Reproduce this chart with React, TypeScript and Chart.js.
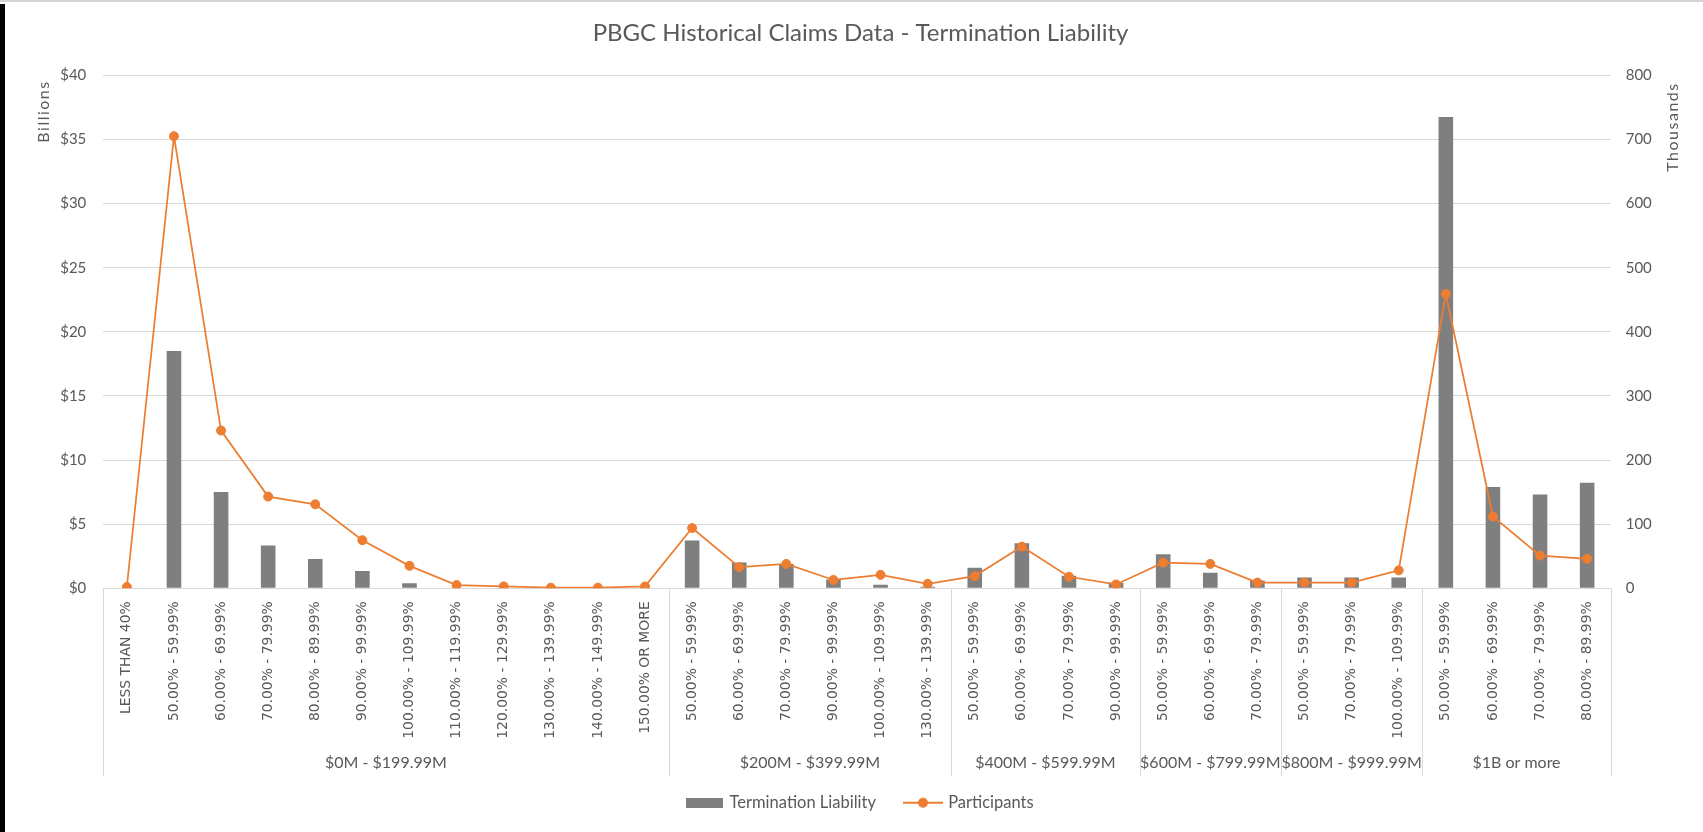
import React, { useEffect, useRef } from 'react';
import { Chart, registerables } from 'chart.js';

Chart.register(...registerables);

// ---------- data ----------
const categories = [
  'LESS THAN 40%', '50.00% - 59.99%', '60.00% - 69.99%', '70.00% - 79.99%', '80.00% - 89.99%',
  '90.00% - 99.99%', '100.00% - 109.99%', '110.00% - 119.99%', '120.00% - 129.99%',
  '130.00% - 139.99%', '140.00% - 149.99%', '150.00% OR MORE',
  '50.00% - 59.99%', '60.00% - 69.99%', '70.00% - 79.99%', '90.00% - 99.99%', '100.00% - 109.99%', '130.00% - 139.99%',
  '50.00% - 59.99%', '60.00% - 69.99%', '70.00% - 79.99%', '90.00% - 99.99%',
  '50.00% - 59.99%', '60.00% - 69.99%', '70.00% - 79.99%',
  '50.00% - 59.99%', '70.00% - 79.99%', '100.00% - 109.99%',
  '50.00% - 59.99%', '60.00% - 69.99%', '70.00% - 79.99%', '80.00% - 89.99%',
];

const groupNames = ['$0M - $199.99M', '$200M - $399.99M', '$400M - $599.99M', '$600M - $799.99M', '$800M - $999.99M', '$1B or more'];
const groupSizes = [12, 6, 4, 3, 3, 4];

// Billions
const terminationLiability = [
  0, 18.5, 7.5, 3.33, 2.28, 1.34, 0.4, 0, 0, 0, 0, 0,
  3.72, 2.02, 1.9, 0.69, 0.27, 0.13,
  1.6, 3.51, 0.98, 0.43,
  2.66, 1.22, 0.61,
  0.85, 0.85, 0.85,
  36.74, 7.89, 7.32, 8.23,
];

// Thousands
const participants = [
  2, 705, 246, 143, 131, 75, 35, 5, 3, 1, 1, 3,
  94, 33, 38, 13, 21, 7,
  19, 65, 18, 6,
  40, 38, 9,
  9, 9, 28,
  459, 112, 51, 46,
];

const leftTicks = { min: 0, max: 40, step: 5 };
const rightTicks = { min: 0, max: 800, step: 100 };

const TITLE = 'PBGC Historical Claims Data - Termination Liability';
const LEFT_TITLE = 'Billions';
const RIGHT_TITLE = 'Thousands';

const FONT = 'Lato, "Open Sans", sans-serif';
const TEXT = '#595959';
const GRID = '#d9d9d9';
const BAR = '#7f7f7f';
const ORANGE = '#ED7D31';

function barIcon() {
  const c = document.createElement('canvas');
  c.width = 37; c.height = 10;
  const g = c.getContext('2d')!;
  g.fillStyle = BAR;
  g.fillRect(0, 0, 37, 10);
  return c;
}
function lineIcon() {
  const c = document.createElement('canvas');
  c.width = 40; c.height = 12;
  const g = c.getContext('2d')!;
  g.strokeStyle = ORANGE; g.lineWidth = 2;
  g.beginPath(); g.moveTo(0, 6); g.lineTo(40, 6); g.stroke();
  g.fillStyle = ORANGE;
  g.beginPath(); g.arc(20, 6, 5, 0, Math.PI * 2); g.fill();
  return c;
}

const groupAxisPlugin = {
  id: 'groupAxis',
  afterDraw(chart: any) {
    const { ctx, chartArea, scales } = chart;
    const x = scales.x;
    const step = x.getPixelForValue(1) - x.getPixelForValue(0);
    const top = chartArea.bottom;
    const bottom = top + 188;
    ctx.save();
    ctx.strokeStyle = GRID;
    ctx.lineWidth = 1;
    const vline = (px: number) => {
      const p = Math.round(px) + 0.5;
      ctx.beginPath(); ctx.moveTo(p, top); ctx.lineTo(p, bottom); ctx.stroke();
    };
    vline(x.getPixelForValue(0) - step / 2);
    ctx.fillStyle = TEXT;
    ctx.font = `16px ${FONT}`;
    ctx.textAlign = 'center';
    ctx.textBaseline = 'middle';
    let start = 0;
    groupSizes.forEach((size, g) => {
      const left = x.getPixelForValue(start) - step / 2;
      const right = x.getPixelForValue(start + size - 1) + step / 2;
      vline(right);
      ctx.fillText(groupNames[g], (left + right) / 2, top + 175);
      start += size;
    });
    ctx.restore();
  },
};

const axisTitlePlugin = {
  id: 'axisTitles',
  afterDraw(chart: any) {
    const { ctx, chartArea } = chart;
    ctx.save();
    ctx.fillStyle = TEXT;
    ctx.font = `16px ${FONT}`;
    (ctx as any).letterSpacing = '1.5px';
    ctx.textAlign = 'right';
    ctx.textBaseline = 'middle';
    const draw = (text: string, x: number, y: number) => {
      ctx.save();
      ctx.translate(x, y);
      ctx.rotate(-Math.PI / 2);
      ctx.fillText(text, 0, 0);
      ctx.restore();
    };
    draw(LEFT_TITLE, chartArea.left - 59, chartArea.top + 5);
    draw(RIGHT_TITLE, chartArea.right + 62, chartArea.top + 7);
    ctx.restore();
  },
};

export default function App() {
  const ref = useRef<HTMLCanvasElement>(null);

  useEffect(() => {
    const canvas = ref.current!;
    const icons = [barIcon(), lineIcon()];
    const chart = new Chart(canvas, {
      type: 'bar',
      data: {
        labels: categories,
        datasets: [
          {
            type: 'bar',
            label: 'Termination Liability',
            data: terminationLiability,
            backgroundColor: BAR,
            borderWidth: 0,
            yAxisID: 'y',
            order: 2,
            categoryPercentage: 1,
            barPercentage: 0.31,
          } as any,
          {
            type: 'line',
            label: 'Participants',
            data: participants,
            borderColor: ORANGE,
            backgroundColor: ORANGE,
            borderWidth: 1.75,
            pointRadius: 4.5,
            pointBorderWidth: 1,
            pointBackgroundColor: ORANGE,
            pointBorderColor: ORANGE,
            tension: 0,
            yAxisID: 'y1',
            order: 1,
          } as any,
        ],
      },
      options: {
        responsive: false,
        animation: false,
        events: [],
        devicePixelRatio: 1,
        layout: { padding: { left: 18, right: 0, top: 0, bottom: 11 } },
        plugins: {
          title: {
            display: true,
            text: TITLE,
            color: TEXT,
            font: { family: FONT, size: 24, weight: 'normal', lineHeight: 1.2 },
            padding: { top: 18.6, bottom: 27.9 },
          },
          legend: {
            display: true,
            position: 'bottom',
            labels: {
              color: TEXT,
              font: { family: FONT, size: 16.5 },
              usePointStyle: true,
              pointStyleWidth: 34,
              padding: 30,
              sort: (a: any, b: any) => a.datasetIndex - b.datasetIndex,
              generateLabels: (ch: any) => {
                const items = Chart.defaults.plugins.legend.labels.generateLabels(ch);
                return items.map((it: any) => ({ ...it, pointStyle: icons[it.datasetIndex] }));
              },
            },
          },
          tooltip: { enabled: false },
        },
        scales: {
          x: {
            type: 'category',
            offset: true,
            grid: { display: false, drawTicks: false },
            border: { display: true, color: GRID, width: 1 },
            ticks: {
              autoSkip: false,
              minRotation: 90,
              maxRotation: 90,
              padding: 13,
              color: TEXT,
              font: { family: '"DejaVu Sans", Verdana, sans-serif', size: 13.9 },
            },
            afterFit: (s: any) => { s.height = 176.2; },
          },
          y: {
            position: 'left',
            min: leftTicks.min,
            max: leftTicks.max,
            grid: { color: GRID, lineWidth: 1, drawTicks: false },
            border: { display: false },
            ticks: {
              stepSize: leftTicks.step,
              padding: 17,
              color: TEXT,
              font: { family: FONT, size: 15 },
              callback: (v: any) => '$' + v,
            },
            afterFit: (s: any) => { s.width = 85.3; },
          },
          y1: {
            position: 'right',
            min: rightTicks.min,
            max: rightTicks.max,
            grid: { display: false, drawTicks: false },
            border: { display: false },
            ticks: {
              stepSize: rightTicks.step,
              padding: 15,
              color: TEXT,
              font: { family: FONT, size: 15 },
            },
            afterFit: (s: any) => { s.width = 92.3; },
          },
        },
      } as any,
      plugins: [groupAxisPlugin, axisTitlePlugin],
    });
    return () => chart.destroy();
  }, []);

  return (
    <div style={{ position: 'absolute', left: 0, top: 0, width: 1703, height: 832, background: '#fff', overflow: 'hidden' }}>
      <canvas ref={ref} width={1703} height={832} style={{ display: 'block', width: 1703, height: 832 }} />
      <div style={{ position: 'absolute', left: 0, top: 0, width: 1703, height: 2, background: '#d4d4d4' }} />
      <div style={{ position: 'absolute', left: 0, top: 4, width: 5, height: 828, background: '#000' }} />
    </div>
  );
}
